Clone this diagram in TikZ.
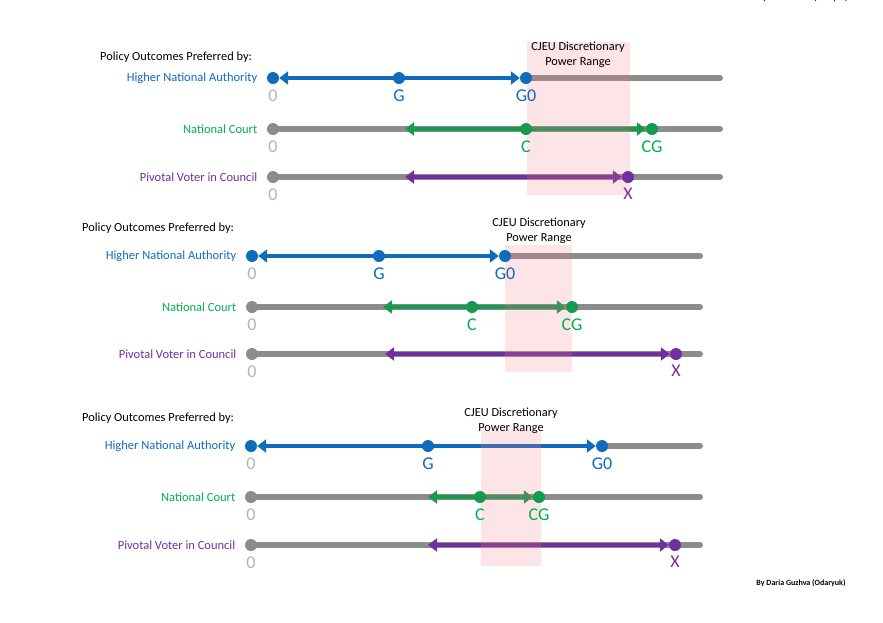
\documentclass[tikz,border=0pt]{standalone}
\usepackage{fontspec}
\setmainfont{Carlito}
\usetikzlibrary{arrows.meta,positioning,backgrounds}
\definecolor{hnablue}{RGB}{16,108,186}
\definecolor{courtgreen}{RGB}{22,154,78}
\definecolor{courttext}{RGB}{0,176,80}
\definecolor{voterpurple}{RGB}{112,48,160}
\definecolor{axisgray}{RGB}{140,140,140}
\definecolor{zerogray}{RGB}{180,180,180}
\definecolor{bandpink}{RGB}{245,120,135}

\tikzset{
  axis/.style={line width=6pt, color=axisgray, line cap=round},
  pref/.style={line width=4.5pt, {Triangle[length=9pt,width=13pt]}-{Triangle[length=9pt,width=13pt]}},
  dot/.style={circle, fill, inner sep=0pt, minimum size=12pt},
  band/.style={fill=bandpink, fill opacity=0.2},
  title/.style={anchor=west, inner sep=0pt, font=\fontsize{12.4}{14}\selectfont},
  rowlabel/.style={left=6pt of #1, font=\fontsize{12.5}{14}\selectfont},
  bandtext/.style={align=center, font=\fontsize{12.3}{15}\selectfont},
  val/.style={below=4pt of #1, font=\fontsize{18}{19}\selectfont, inner sep=1pt},
  credit/.style={font=\fontsize{8}{9}\selectfont\bfseries}
}

\begin{document}
\begin{tikzpicture}[x=1pt,y=-1pt]
\useasboundingbox (0,0) rectangle (883,622);
\node[credit] (topcredit) at (803,-2) {By Daria Guzhva (Odaryuk)};

% panel a
\node[title] (ta) at (100,57) {Policy Outcomes Preferred by:};
\node[dot, hnablue] (za1) at (273,78) {};
\node[dot, axisgray] (za2) at (273,129) {};
\node[dot, axisgray] (za3) at (273,177) {};
\coordinate (ea1) at (720,78);
\coordinate (ea2) at (720,129);
\coordinate (ea3) at (720,177);
\coordinate (cla) at (405,129);
\coordinate (xla) at (405,177);
\node[dot, hnablue] (ga) at (399,78) {};
\node[dot, hnablue] (gza) at (526,78) {};
\node[dot, courtgreen] (ca) at (526,129) {};
\node[dot, courtgreen] (cga) at (652,129) {};
\node[dot, voterpurple] (xa) at (628,177) {};
\node[bandtext] (bta) at (578,55) {CJEU Discretionary\\Power Range};
\node[rowlabel=za1, hnablue] {Higher National Authority};
\node[rowlabel=za2, courttext] {National Court};
\node[rowlabel=za3, voterpurple] {Pivotal Voter in Council};
\node[val=za1, zerogray] {0};
\node[val=za2, zerogray] {0};
\node[val=za3, zerogray] {0};
\node[val=ga, hnablue] {G};
\node[val=gza, hnablue] {G0};
\node[val=ca, courttext] {C};
\node[val=cga, courttext] {CG};
\node[val=xa, voterpurple] {X};

% panel b
\node[title] (tb) at (82,228) {Policy Outcomes Preferred by:};
\node[dot, hnablue] (zb1) at (252,256) {};
\node[dot, axisgray] (zb2) at (252,307) {};
\node[dot, axisgray] (zb3) at (252,354) {};
\coordinate (eb1) at (700,256);
\coordinate (eb2) at (700,307);
\coordinate (eb3) at (700,354);
\coordinate (clb) at (383,307);
\coordinate (xlb) at (385,354);
\node[dot, hnablue] (gb) at (379,256) {};
\node[dot, hnablue] (gzb) at (505,256) {};
\node[dot, courtgreen] (cb) at (472,307) {};
\node[dot, courtgreen] (cgb) at (572,307) {};
\node[dot, voterpurple] (xb) at (676,354) {};
\node[bandtext] (btb) at (539,231) {CJEU Discretionary\\Power Range};
\node[rowlabel=zb1, hnablue] {Higher National Authority};
\node[rowlabel=zb2, courttext] {National Court};
\node[rowlabel=zb3, voterpurple] {Pivotal Voter in Council};
\node[val=zb1, zerogray] {0};
\node[val=zb2, zerogray] {0};
\node[val=zb3, zerogray] {0};
\node[val=gb, hnablue] {G};
\node[val=gzb, hnablue] {G0};
\node[val=cb, courttext] {C};
\node[val=cgb, courttext] {CG};
\node[val=xb, voterpurple] {X};

% panel c
\node[title] (tc) at (82,418) {Policy Outcomes Preferred by:};
\node[dot, hnablue] (zc1) at (251,446) {};
\node[dot, axisgray] (zc2) at (251,497) {};
\node[dot, axisgray] (zc3) at (251,545) {};
\coordinate (ec1) at (700,446);
\coordinate (ec2) at (700,497);
\coordinate (ec3) at (700,545);
\coordinate (clc) at (428,497);
\coordinate (xlc) at (428,545);
\node[dot, hnablue] (gc) at (428,446) {};
\node[dot, hnablue] (gzc) at (602,446) {};
\node[dot, courtgreen] (cc) at (480,497) {};
\node[dot, courtgreen] (cgc) at (539,497) {};
\node[dot, voterpurple] (xc) at (675,545) {};
\node[bandtext] (btc) at (511,421) {CJEU Discretionary\\Power Range};
\node[rowlabel=zc1, hnablue] {Higher National Authority};
\node[rowlabel=zc2, courttext] {National Court};
\node[rowlabel=zc3, voterpurple] {Pivotal Voter in Council};
\node[val=zc1, zerogray] {0};
\node[val=zc2, zerogray] {0};
\node[val=zc3, zerogray] {0};
\node[val=gc, hnablue] {G};
\node[val=gzc, hnablue] {G0};
\node[val=cc, courttext] {C};
\node[val=cgc, courttext] {CG};
\node[val=xc, voterpurple] {X};

\node[credit] (botcredit) at (801,583) {By Daria Guzhva (Odaryuk)};

% lines and bands go under the dots
\begin{scope}[on background layer]
\fill[white] (0,0) rectangle (883,622);
\draw[axis] (gza.center) -- (ea1);
\draw[axis] (za2.center) -- (ea2);
\draw[axis] (za3.center) -- (ea3);
\draw[pref, hnablue] (za1) -- (gza);
\draw[pref, courtgreen] (cla) -- (cga);
\draw[pref, voterpurple] (xla) -- (xa);
\fill[band] (527,42) rectangle (630,195);
\draw[axis] (gzb.center) -- (eb1);
\draw[axis] (zb2.center) -- (eb2);
\draw[axis] (zb3.center) -- (eb3);
\draw[pref, hnablue] (zb1) -- (gzb);
\draw[pref, courtgreen] (clb) -- (cgb);
\draw[pref, voterpurple] (xlb) -- (xb);
\fill[band] (505,245) rectangle (572,372);
\draw[axis] (gzc.center) -- (ec1);
\draw[axis] (zc2.center) -- (ec2);
\draw[axis] (zc3.center) -- (ec3);
\draw[pref, hnablue] (zc1) -- (gzc);
\draw[pref, courtgreen] (clc) -- (cgc);
\draw[pref, voterpurple] (xlc) -- (xc);
\fill[band] (481,430) rectangle (541,566);
\end{scope}
\end{tikzpicture}
\end{document}
